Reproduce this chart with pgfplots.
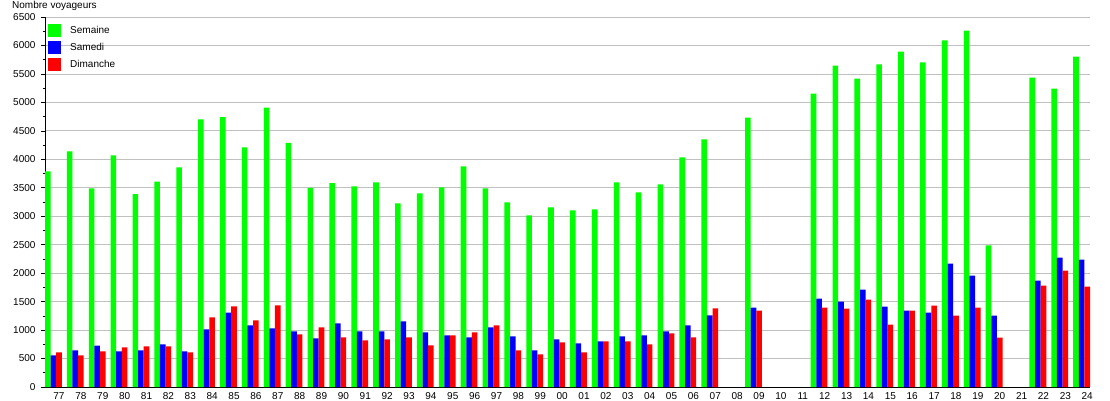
\documentclass[border=0pt]{standalone}
\usepackage{pgfplots}
\pgfplotsset{compat=1.18}
\usepackage{fontspec}
\setmainfont{Liberation Sans}
\definecolor{cgreen}{RGB}{0,255,0}
\definecolor{cblue}{RGB}{0,0,255}
\definecolor{cred}{RGB}{255,0,0}
\definecolor{cgrid}{RGB}{192,192,192}
\begin{document}
\begin{tikzpicture}[x=1pt,y=1pt]
\begin{axis}[
  at={(45pt,13pt)}, anchor=south west,
  scale only axis, width=1045pt, height=370pt,
  xmin=-0.384, xmax=47.384, ymin=0, ymax=6500,
  axis lines=left, axis line style={-, black, line width=0.8pt},
  ytick={0,500,...,6500}, minor y tick num=1,
  ymajorgrids, major grid style={cgrid, line width=0.8pt},
  tick align=outside, major tick length=4pt, minor tick length=2.5pt,
  tick style={black, line width=0.6pt},
  xtick={0,...,47},
  xticklabels={77,78,79,80,81,82,83,84,85,86,87,88,89,90,91,92,93,94,95,96,97,98,99,00,01,02,03,04,05,06,07,08,09,10,11,12,13,14,15,16,17,18,19,20,21,22,23,24},
  x tick style={draw=none},
  xticklabel style={xshift=5.6pt, inner sep=0pt, yshift=-1.8pt, font=\fontsize{10}{11}\selectfont},
  yticklabel style={xshift=-2pt, font=\fontsize{10}{12}\selectfont},
  /pgf/number format/assume math mode=true,
  yticklabel={\pgfmathprintnumber[fixed,1000 sep={}]{\tick}},
  ybar, bar width=0.256,
  legend style={at={(rel axis cs:0,1)}, anchor=north west, xshift=0pt, yshift=-3pt,
    draw=none, fill=none, font=\fontsize{10}{12}\selectfont,
    nodes={inner sep=1pt, minimum height=17pt, anchor=west},
    row sep=0pt, /tikz/every odd column/.style={column sep=8pt}},
  legend cell align=left,
  legend image code/.code={\fill[#1,draw=none] (0pt,-6.5pt) rectangle (13pt,6.5pt);},
]
\addplot[fill=cgreen, draw=none, bar shift=-0.256] coordinates {
(0,3790) (1,4140) (2,3490) (3,4070) (4,3390) (5,3610) (6,3860) (7,4700) (8,4740) (9,4210)
(10,4910) (11,4290) (12,3500) (13,3580) (14,3525) (15,3596) (16,3227) (17,3402) (18,3508) (19,3877)
(20,3490) (21,3244) (22,3016) (23,3156) (24,3104) (25,3121) (26,3596) (27,3420) (28,3560) (29,4035)
(30,4351) (32,4732) (35,5153) (36,5645) (37,5417) (38,5669) (39,5891) (40,5704) (41,6090) (42,6260)
(43,2489) (45,5434) (46,5241) (47,5803)};
\addplot[fill=cblue, draw=none, bar shift=0] coordinates {
(0,556) (1,644) (2,726) (3,627) (4,644) (5,750) (6,627) (7,1013) (8,1306) (9,1083)
(10,1031) (11,978) (12,855) (13,1118) (14,978) (15,978) (16,1154) (17,960) (18,908) (19,873)
(20,1048) (21,890) (22,644) (23,837) (24,767) (25,802) (26,890) (27,908) (28,978) (29,1083)
(30,1259) (32,1394) (35,1552) (36,1499) (37,1710) (38,1411) (39,1341) (40,1306) (41,2167) (42,1956)
(43,1253) (45,1868) (46,2272) (47,2237)};
\addplot[fill=cred, draw=none, bar shift=0.256] coordinates {
(0,609) (1,556) (2,627) (3,697) (4,714) (5,714) (6,609) (7,1224) (8,1417) (9,1171)
(10,1435) (11,925) (12,1048) (13,873) (14,820) (15,837) (16,873) (17,732) (18,908) (19,960)
(20,1083) (21,644) (22,574) (23,785) (24,609) (25,802) (26,802) (27,750) (28,943) (29,873)
(30,1382) (32,1341) (35,1394) (36,1376) (37,1534) (38,1095) (39,1341) (40,1429) (41,1253) (42,1394)
(43,867) (45,1780) (46,2044) (47,1763)};
\legend{Semaine,Samedi,Dimanche}
\end{axis}
\node[anchor=west, inner sep=0pt, font=\fontsize{10}{12}\selectfont] at (12pt,394pt) {Nombre voyageurs};
\pgfresetboundingbox
\useasboundingbox (0pt,0pt) rectangle (1110pt,400pt);
\end{tikzpicture}
\end{document}
